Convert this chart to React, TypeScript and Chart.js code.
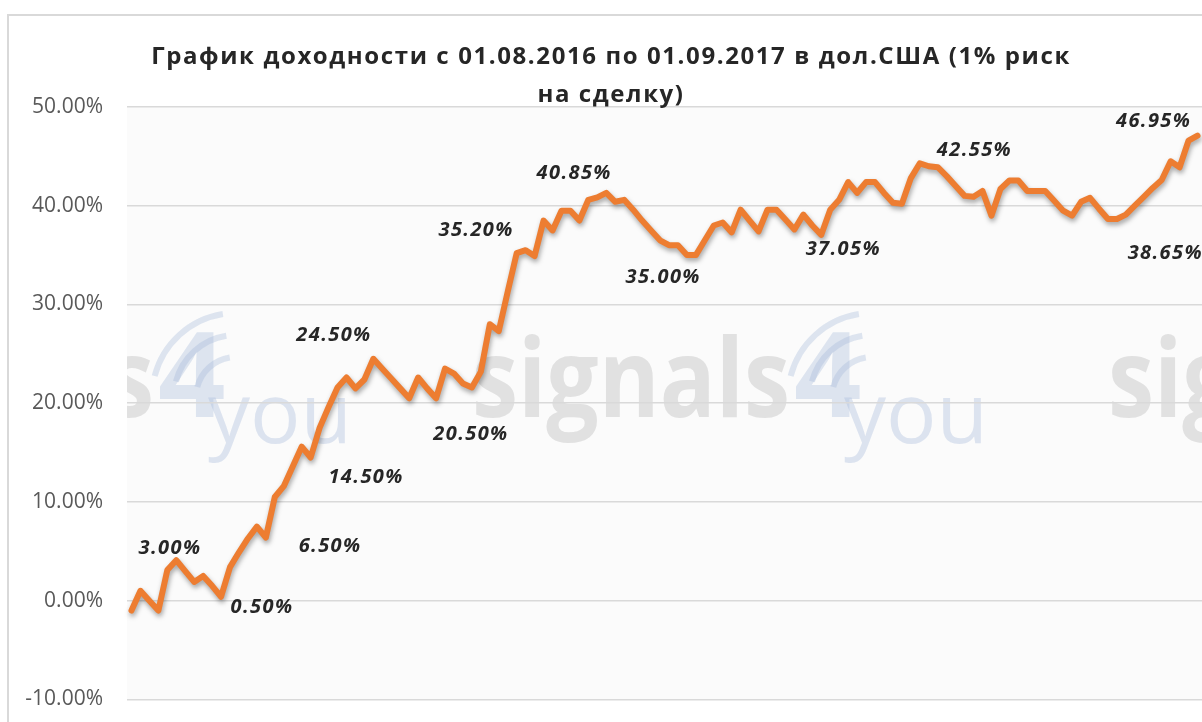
import React, { useEffect, useRef } from 'react';
import { Chart, registerables } from 'chart.js';

Chart.register(...registerables);

// ---- data (percent returns, one value per step) ----
const returns: number[] = [
  -1.0, 1.0, 0.0, -1.0, 3.1, 4.1, 3.0, 1.9, 2.5, 1.5,
  0.4, 3.4, 4.9, 6.3, 7.5, 6.4, 10.5, 11.6, 13.6, 15.6,
  14.5, 17.5, 19.6, 21.6, 22.6, 21.5, 22.4, 24.5, 23.5, 22.5,
  21.5, 20.5, 22.6, 21.5, 20.5, 23.5, 23.0, 22.0, 21.6, 23.2,
  28.0, 27.3, 31.3, 35.2, 35.5, 34.9, 38.5, 37.5, 39.5, 39.5,
  38.5, 40.6, 40.85, 41.3, 40.4, 40.6, 39.6, 38.5, 37.5, 36.5,
  36.0, 36.0, 35.0, 35.0, 36.5, 38.0, 38.3, 37.3, 39.6, 38.5,
  37.4, 39.6, 39.6, 38.6, 37.6, 39.1, 38.0, 37.05, 39.6, 40.6,
  42.4, 41.3, 42.4, 42.4, 41.3, 40.3, 40.2, 42.8, 44.3, 44.0,
  43.9, 43.0, 42.0, 41.0, 40.9, 41.5, 39.0, 41.7, 42.55, 42.55,
  41.5, 41.5, 41.5, 40.5, 39.5, 39.0, 40.4, 40.8, 39.7, 38.65,
  38.65, 39.1, 40.0, 40.9, 41.8, 42.6, 44.5, 43.9, 46.6, 47.1,
];
const steps: string[] = returns.map((_, i) => String(i + 1));

const yMin = -10;
const yMax = 50;
const yStep = 10;

const titleLines: string[] = [
  'График доходности с 01.08.2016 по 01.09.2017 в дол.США (1% риск',
  'на сделку)',
];

// data labels, anchored in data coordinates (category position, value)
const noteTexts: string[] = ['3.00%', '0.50%', '6.50%', '14.50%', '24.50%', '20.50%', '35.20%', '40.85%', '35.00%', '37.05%', '42.55%', '46.95%', '38.65%'];
const noteAt: number[] = [4.3, 14.57, 22.17, 26.19, 22.6, 37.9, 38.47, 49.42, 59.36, 79.46, 94.1, 114.1, 115.4];
const noteVal: number[] = [5.33, -0.66, 5.53, 12.54, 26.85, 16.8, 37.51, 43.3, 32.74, 35.58, 45.63, 48.58, 35.18];

const FONT = "'Open Sans', 'Noto Sans', 'DejaVu Sans', sans-serif";
const PAD_LEFT = 11;

function drawWatermark(ctx: CanvasRenderingContext2D, area: any) {
  ctx.save();
  ctx.beginPath();
  ctx.rect(area.left, area.top, area.right - area.left, area.bottom - area.top);
  ctx.clip();
  const period = 636;
  for (let k = -1; k <= 2; k++) {
    const ox = area.left + 345 + k * period;
    const by = area.top + 310;
    // "signals"
    ctx.font = `bold 110px ${FONT}`;
    ctx.fillStyle = 'rgba(180,180,180,0.36)';
    const w = ctx.measureText('signals').width;
    ctx.save();
    ctx.translate(ox, by);
    ctx.scale(318 / w, 1);
    ctx.fillText('signals', 0, 0);
    ctx.restore();
    // "4" with signal arcs
    ctx.fillStyle = 'rgba(160,180,215,0.32)';
    ctx.font = `bold 118px ${FONT}`;
    ctx.fillText('4', ox + 322, by);
    ctx.strokeStyle = 'rgba(160,180,215,0.32)';
    ctx.lineWidth = 6;
    for (let r = 0; r < 3; r++) {
      ctx.beginPath();
      ctx.arc(ox + 400, by - 20, 40 + r * 22, Math.PI * 1.08, Math.PI * 1.45);
      ctx.stroke();
    }
    // "you"
    ctx.font = `84px ${FONT}`;
    ctx.fillStyle = 'rgba(165,185,220,0.36)';
    ctx.fillText('you', ox + 372, by + 26);
  }
  ctx.restore();
}

const backdrop = {
  id: 'backdrop',
  beforeDraw(chart: any) {
    const { ctx, chartArea } = chart;
    ctx.save();
    ctx.fillStyle = '#fbfbfb';
    ctx.fillRect(chartArea.left, chartArea.top, chartArea.right - chartArea.left, chartArea.bottom - chartArea.top);
    ctx.restore();
    drawWatermark(ctx, chartArea);
  },
};

const heading = {
  id: 'heading',
  afterDraw(chart: any) {
    const { ctx, chartArea } = chart;
    ctx.save();
    (ctx as any).letterSpacing = '1.6px';
    ctx.font = `bold 24px ${FONT}`;
    ctx.fillStyle = '#262626';
    ctx.textAlign = 'center';
    ctx.textBaseline = 'middle';
    const cx = (PAD_LEFT + chart.width) / 2;
    ctx.fillText(titleLines[0], cx, chartArea.top - 50);
    ctx.fillText(titleLines[1], cx, chartArea.top - 12);
    ctx.restore();
  },
};

const lineShadow = {
  id: 'lineShadow',
  beforeDatasetDraw(chart: any) {
    const ctx = chart.ctx;
    ctx.save();
    ctx.shadowColor = 'rgba(0,0,0,0.35)';
    ctx.shadowBlur = 5;
    ctx.shadowOffsetX = 1;
    ctx.shadowOffsetY = 3;
  },
  afterDatasetDraw(chart: any) {
    chart.ctx.restore();
  },
};

const notes = {
  id: 'notes',
  afterDatasetsDraw(chart: any) {
    const { ctx, scales } = chart;
    ctx.save();
    (ctx as any).letterSpacing = '1.4px';
    ctx.font = `italic bold 20px ${FONT}`;
    ctx.fillStyle = '#262626';
    ctx.textAlign = 'center';
    ctx.textBaseline = 'middle';
    noteTexts.forEach((t, i) => {
      const x = scales.x.getPixelForValue(noteAt[i]);
      const y = scales.y.getPixelForValue(noteVal[i]);
      ctx.fillText(t, x, y);
    });
    ctx.restore();
  },
};

function ReturnChart() {
  const ref = useRef<HTMLCanvasElement | null>(null);
  useEffect(() => {
    if (!ref.current) return;
    const chart = new Chart(ref.current, {
      type: 'line',
      data: {
        labels: steps,
        datasets: [
          {
            data: returns,
            borderColor: '#ED7D31',
            borderWidth: 6,
            borderJoinStyle: 'round',
            borderCapStyle: 'round',
            pointRadius: 0,
            tension: 0,
            fill: false,
          },
        ],
      },
      options: {
        animation: false,
        responsive: false,
        devicePixelRatio: 1,
        layout: { padding: { left: PAD_LEFT, right: 0, top: 91, bottom: 0 } },
        plugins: {
          legend: { display: false },
          tooltip: { enabled: false },
          title: { display: false },
        },
        scales: {
          x: { type: 'category', display: false, offset: true },
          y: {
            min: yMin,
            max: yMax,
            afterFit: (s: any) => { s.width = 107; },
            border: { display: false },
            grid: { color: '#d9d9d9', lineWidth: 1.5, drawTicks: false },
            ticks: {
              stepSize: yStep,
              padding: 24,
              color: '#595959',
              font: { family: FONT, size: 21 },
              callback: (v: any) => Number(v).toFixed(2) + '%',
            },
          },
        },
      },
      plugins: [backdrop, lineShadow, notes, heading],
    });
    return () => chart.destroy();
  }, []);
  return <canvas ref={ref} width={1193} height={720} style={{ width: 1193, height: 720, display: 'block' }} />;
}

export default function App() {
  return (
    <div style={{ position: 'fixed', left: 0, top: 0, width: 1202, height: 722, overflow: 'hidden', background: '#ffffff' }}>
      <div
        style={{
          position: 'absolute',
          left: 7,
          top: 14,
          width: 1300,
          height: 800,
          borderLeft: '2px solid #d9d9d9',
          borderTop: '2px solid #d9d9d9',
          background: '#ffffff',
        }}
      >
        <ReturnChart />
      </div>
    </div>
  );
}
